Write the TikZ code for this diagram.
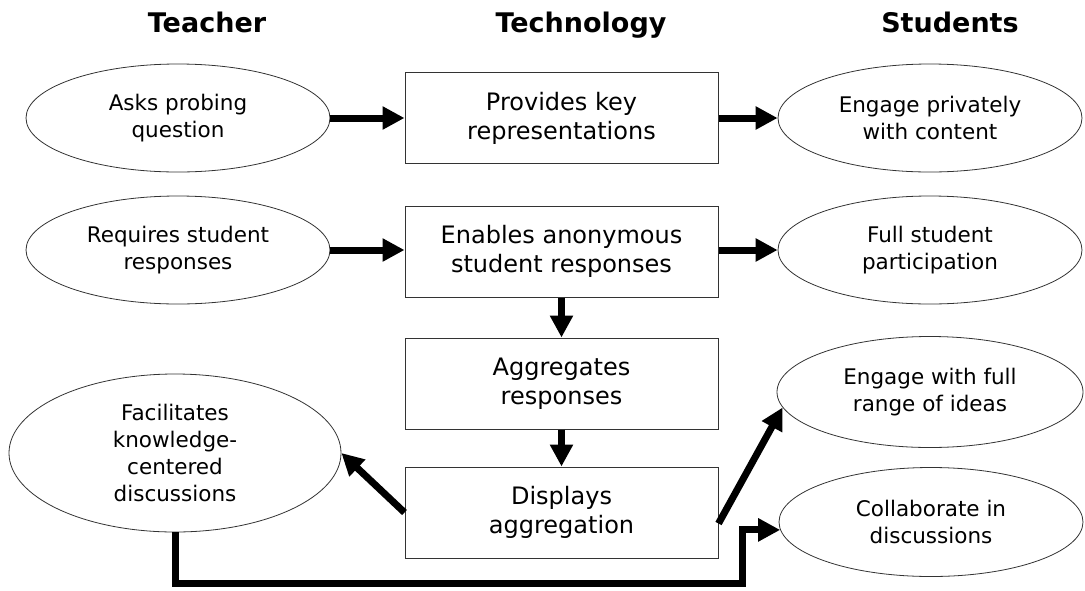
\documentclass[tikz,border=0pt]{standalone}
\usepackage{fontspec}
\setmainfont{DejaVu Sans}
\usetikzlibrary{shapes.geometric, arrows.meta}
\tikzset{
    tech/.style={rectangle, minimum width=313pt, minimum height=91pt, align=center, draw=black!80, line width=1pt, font=\fontsize{24}{29}\selectfont},
    role/.style={ellipse, minimum width=304pt, minimum height=108pt, inner sep=0pt, align=center, draw=black!80, line width=0.8pt, font=\fontsize{21.5}{27}\selectfont},
    heading/.style={anchor=base, font=\fontsize{27}{32}\selectfont\bfseries},
    arrow/.style={line width=7pt, -{Triangle[length=22pt, width=22pt]}}
}

\begin{document}
\begin{tikzpicture}[x=1pt, y=-1pt]
    \useasboundingbox (0,0) rectangle (1085,590);

    % Column headings
    \node[heading] (hteach) at (207,32) {Teacher};
    \node[heading] (htech) at (581,32) {Technology};
    \node[heading] (hstud) at (950,32) {Students};

    % Technology column
    \node[tech] (keyrep) at (561.5,118) {Provides key\\representations};
    \node[tech] (anon) at (561.5,251.5) {Enables anonymous\\student responses};
    \node[tech] (aggr) at (561.5,383.5) {Aggregates\\responses};
    \node[tech] (displ) at (561.5,512.5) {Displays\\aggregation};

    % Teacher column
    \node[role] (probe) at (178,118) {Asks probing\\question};
    \node[role] (require) at (178,250) {Requires student\\responses};
    \node[role, minimum width=332pt, minimum height=158pt] (facil) at (175,453) {Facilitates\\knowledge-\\centered\\discussions};

    % Students column
    \node[role] (private) at (930,118) {Engage privately\\with content};
    \node[role] (partic) at (930,250) {Full student\\participation};
    \node[role, minimum width=306pt, minimum height=111pt] (range) at (930,392) {Engage with full\\range of ideas};
    \node[role, minimum height=109pt] (collab) at (931,522) {Collaborate in\\discussions};

    % Arrows
    \draw[arrow] (probe) -- (keyrep);
    \draw[arrow] (keyrep) -- (private);
    \draw[arrow] (require.east) -- (require.east -| anon.west);
    \draw[arrow] (anon.east |- partic) -- (partic.west);
    \draw[arrow] (anon) -- (aggr);
    \draw[arrow] (aggr) -- (displ);
    \draw[arrow] (displ.west) -- (facil.east);
    \draw[arrow] ([yshift=-11pt]displ.east) -- (range.186);
    \coordinate (bend) at (742,583);
    \draw[arrow] (facil.south) |- (bend) |- (collab.183);
\end{tikzpicture}
\end{document}
